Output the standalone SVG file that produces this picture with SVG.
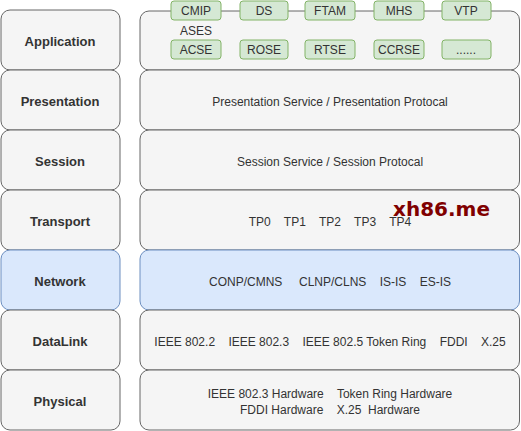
<svg xmlns="http://www.w3.org/2000/svg" width="521" height="431" viewBox="0 0 521 431">
<style>
.box{fill:#f5f5f5;stroke:#666666;stroke-width:1}
.net{fill:#dae8fc;stroke:#6c8ebf;stroke-width:1}
.g{fill:#d5e8d4;stroke:#82b366;stroke-width:1}
.lbl{font-family:"Liberation Sans",Arial,sans-serif;font-size:13px;font-weight:bold;fill:#333333;text-anchor:middle}
.t{font-family:"Liberation Sans",Arial,sans-serif;font-size:12px;fill:#333333;text-anchor:middle}
.ln{stroke:#666666;stroke-width:1;fill:none}
</style>
<rect width="521" height="431" fill="#ffffff"/>
<g id="app-label"><rect class="box" x="1" y="10" width="119" height="60" rx="9"/><text class="lbl" x="60" y="46">Application</text></g>
<g id="pres-label"><rect class="box" x="1" y="70" width="119" height="60" rx="9"/><text class="lbl" x="60" y="106">Presentation</text></g>
<g id="sess-label"><rect class="box" x="1" y="130" width="119" height="60" rx="9"/><text class="lbl" x="60" y="166">Session</text></g>
<g id="trans-label"><rect class="box" x="1" y="190" width="119" height="60" rx="9"/><text class="lbl" x="60" y="226">Transport</text></g>
<g id="net-label"><rect class="net" x="1" y="250" width="119" height="60" rx="9"/><text class="lbl" x="60" y="286">Network</text></g>
<g id="dl-label"><rect class="box" x="1" y="310" width="119" height="60" rx="9"/><text class="lbl" x="60" y="346">DataLink</text></g>
<g id="phy-label"><rect class="box" x="1" y="370" width="119" height="60" rx="9"/><text class="lbl" x="60" y="406">Physical</text></g>

<g id="app"><rect class="box" x="140" y="11" width="379.5" height="59" rx="9"/><text class="t" x="196" y="35">ASES</text></g>
<g id="pres"><rect class="box" x="140" y="70" width="379.5" height="60" rx="9"/><text class="t" x="330" y="106">Presentation Service / Presentation Protocal</text></g>
<g id="sess"><rect class="box" x="140" y="130" width="379.5" height="60" rx="9"/><text class="t" x="330" y="166">Session Service / Session Protocal</text></g>
<g id="trans"><rect class="box" x="140" y="190" width="379.5" height="60" rx="9"/><text class="t" x="330" y="226" xml:space="preserve">TP0    TP1    TP2    TP3    TP4</text></g>
<g id="net"><rect class="net" x="140" y="250" width="379.5" height="60" rx="9"/><text class="t" x="330" y="286" xml:space="preserve">CONP/CMNS     CLNP/CLNS    IS-IS    ES-IS</text></g>
<g id="dl"><rect class="box" x="140" y="310" width="379.5" height="60" rx="9"/><text class="t" x="330" y="346" xml:space="preserve">IEEE 802.2    IEEE 802.3    IEEE 802.5 Token Ring    FDDI    X.25</text></g>
<g id="phy"><rect class="box" x="140" y="370" width="379.5" height="60" rx="9"/><text class="t" x="330" y="398" xml:space="preserve">IEEE 802.3 Hardware    Token Ring Hardware</text><text class="t" x="330" y="414" xml:space="preserve">FDDI Hardware    X.25  Hardware</text></g>

<g id="cmip"><rect class="g" x="171" y="1" width="50" height="19" rx="3"/><text class="t" x="196" y="15">CMIP</text></g>
<g id="ds"><rect class="g" x="240" y="1" width="48" height="19" rx="3"/><text class="t" x="264" y="15">DS</text></g>
<g id="ftam"><rect class="g" x="305" y="1" width="50" height="19" rx="3"/><text class="t" x="330" y="15">FTAM</text></g>
<g id="mhs"><rect class="g" x="374" y="1" width="50" height="19" rx="3"/><text class="t" x="399" y="15">MHS</text></g>
<g id="vtp"><rect class="g" x="442" y="1" width="49" height="19" rx="3"/><text class="t" x="466" y="15">VTP</text></g>
<g id="acse"><rect class="g" x="171" y="40" width="50" height="19" rx="3"/><text class="t" x="196" y="54">ACSE</text></g>
<g id="rose"><rect class="g" x="240" y="40" width="48" height="19" rx="3"/><text class="t" x="264" y="54">ROSE</text></g>
<g id="rtse"><rect class="g" x="305" y="40" width="50" height="19" rx="3"/><text class="t" x="330" y="54">RTSE</text></g>
<g id="ccrse"><rect class="g" x="374" y="40" width="50" height="19" rx="3"/><text class="t" x="399" y="54">CCRSE</text></g>
<g id="etc"><rect class="g" x="442" y="40" width="49" height="19" rx="3"/><text class="t" x="466" y="54">......</text></g>

<g id="connectors"></g>
<text x="393" y="216" font-family="DejaVu Sans,sans-serif" font-size="20" font-weight="bold" fill="#800000">xh86.me</text>
</svg>
